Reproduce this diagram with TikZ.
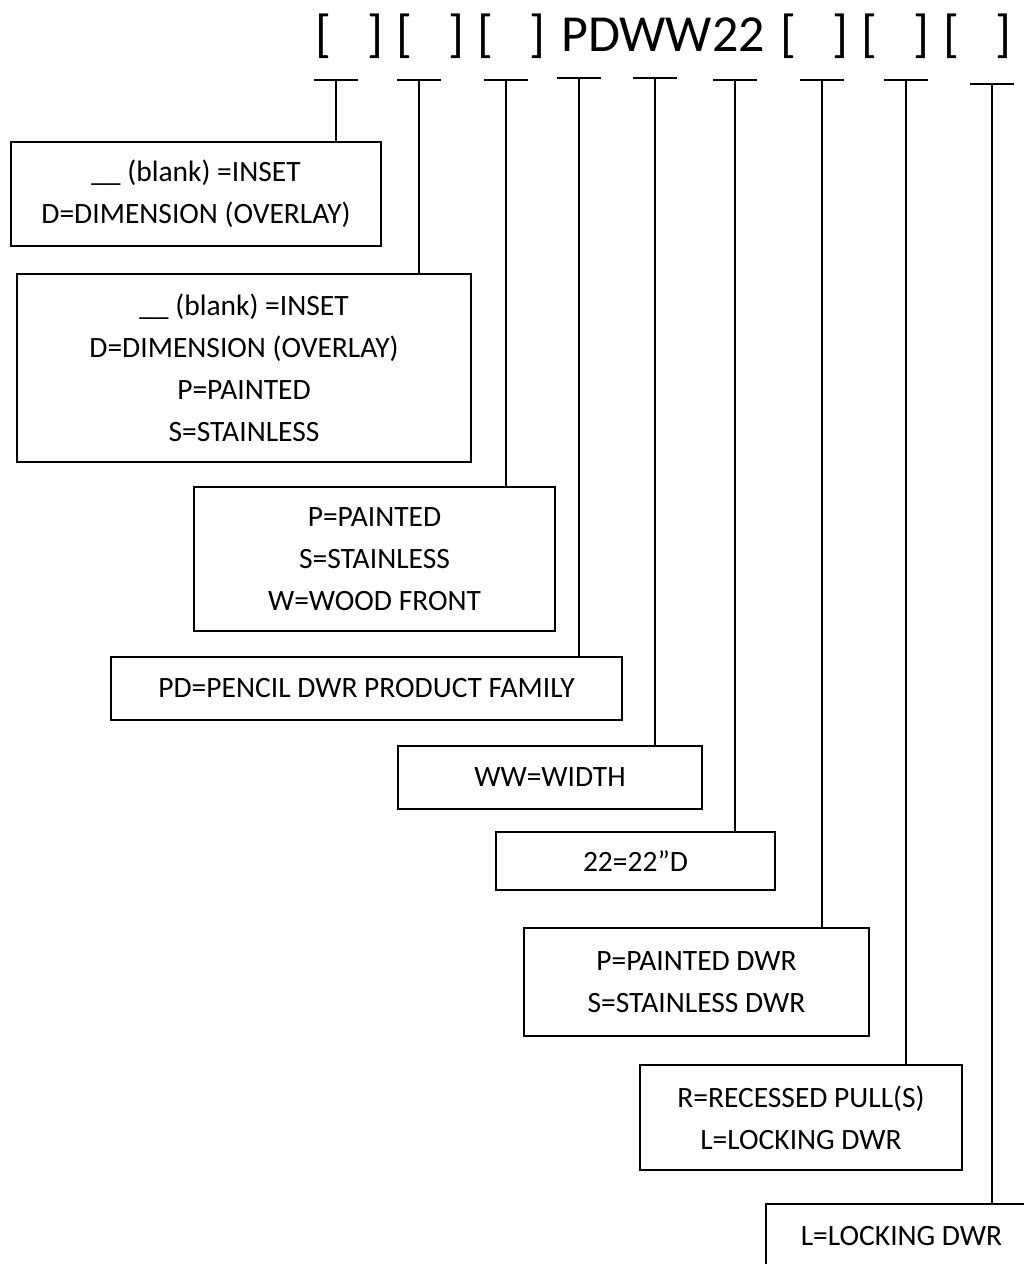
\documentclass[tikz,border=0pt]{standalone}
\usepackage{fontspec}
\setmainfont{Carlito}
\begin{document}
\begin{tikzpicture}[x=1pt,y=-1pt,line width=1.6pt,
  box/.style={draw,rectangle,align=center,inner sep=0pt,font=\fontsize{29.5}{42}\selectfont},
  hdr/.style={anchor=base,inner sep=0pt,font=\fontsize{52}{60}\selectfont}]
\useasboundingbox (0,0) rectangle (1024,1264);
% header
\node[hdr] (h1) at (349,51) {[\hspace{36pt}]};
\node[hdr] (h2) at (430,51) {[\hspace{36pt}]};
\node[hdr] (h3) at (511,51) {[\hspace{36pt}]};
\node[hdr] (h4) at (663,51) {PDWW22};
\node[hdr] (h5) at (814,51) {[\hspace{36pt}]};
\node[hdr] (h6) at (895,51) {[\hspace{36pt}]};
\node[hdr] (h7) at (977,51) {[\hspace{36pt}]};
% tick coordinates
\coordinate (t1) at (336,80);
\coordinate (t2) at (419,80);
\coordinate (t3) at (506,80);
\coordinate (t4) at (579,78);
\coordinate (t5) at (655,78);
\coordinate (t6) at (735,80);
\coordinate (t7) at (822,80);
\coordinate (t8) at (906,80);
\coordinate (t9) at (992,84);
% boxes
\node[box,minimum width=370,minimum height=104] (b1) at (196,194) {\_\_ (blank) =INSET\\D=DIMENSION (OVERLAY)};
\node[box,minimum width=454,minimum height=188] (b2) at (244,368) {\_\_ (blank) =INSET\\D=DIMENSION (OVERLAY)\\P=PAINTED\\S=STAINLESS};
\node[box,minimum width=361,minimum height=144] (b3) at (374.5,559) {P=PAINTED\\S=STAINLESS\\W=WOOD FRONT};
\node[box,minimum width=511,minimum height=63] (b4) at (366.5,688.5) {PD=PENCIL DWR PRODUCT FAMILY};
\node[box,minimum width=304,minimum height=63] (b5) at (550,777.5) {WW=WIDTH};
\node[box,minimum width=279,minimum height=58] (b6) at (635.5,861) {22=22”D};
\node[box,minimum width=345,minimum height=108] (b7) at (696.5,982) {P=PAINTED DWR\\S=STAINLESS DWR};
\node[box,minimum width=322,minimum height=105] (b8) at (801,1117.5) {R=RECESSED PULL(S)\\L=LOCKING DWR};
\node[box,minimum width=271,minimum height=64] (b9) at (901.5,1236) {L=LOCKING DWR};
% ticks and stems
\foreach \i in {1,...,9}{
  \draw ([xshift=-22pt]t\i) -- ([xshift=22pt]t\i);
  \draw (t\i) -- (t\i |- b\i.north);
}
\end{tikzpicture}
\end{document}
